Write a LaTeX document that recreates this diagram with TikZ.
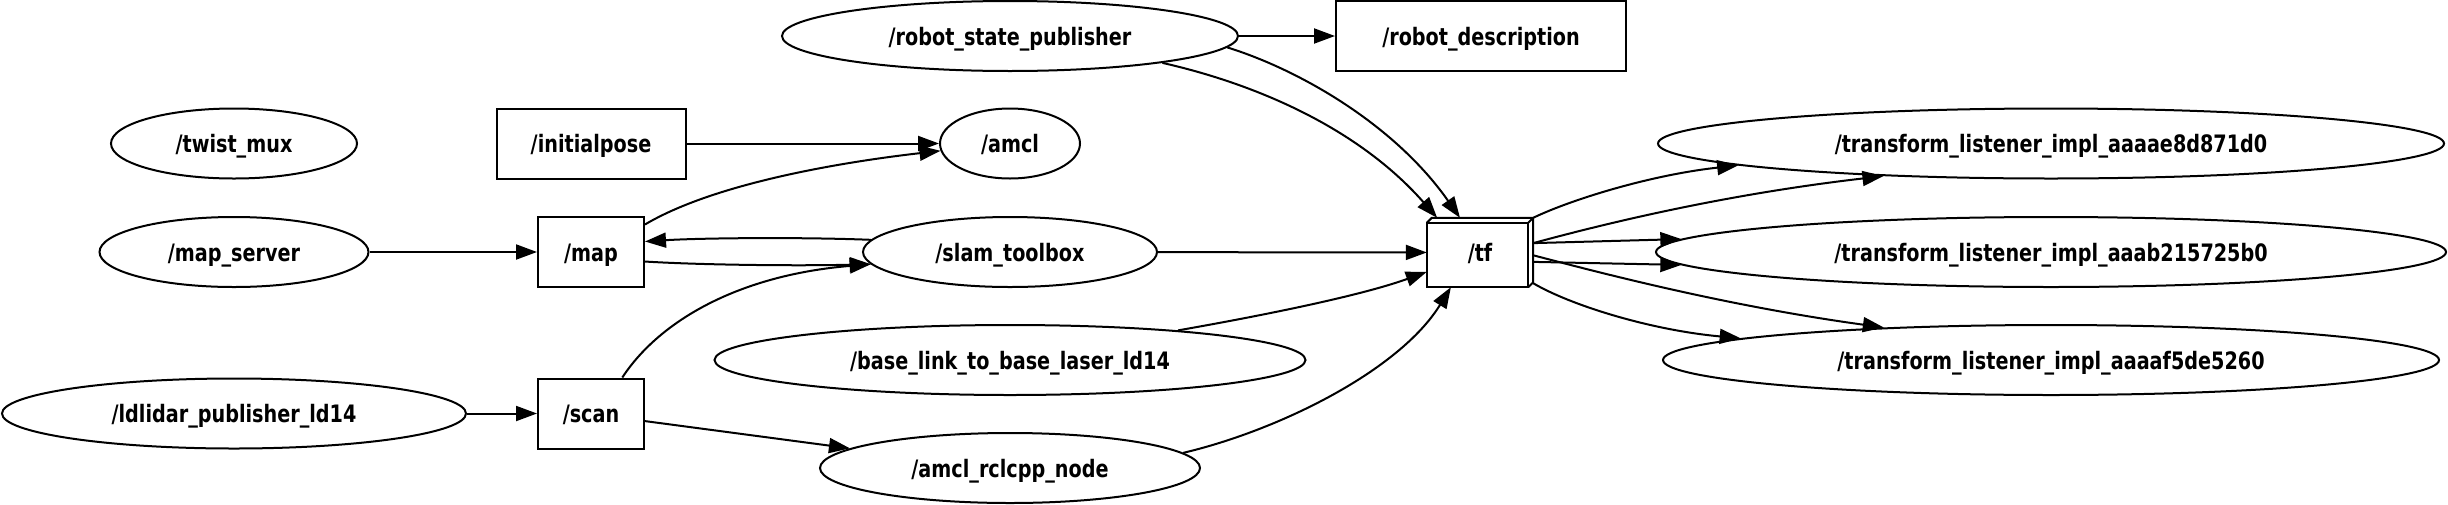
\documentclass[tikz,border=0pt]{standalone}
\usepackage{fontspec}
\usetikzlibrary{shapes.geometric,arrows.meta}
\newfontfamily\lblfont{DejaVu Sans}[FakeStretch=0.8]

\begin{document}
\begin{tikzpicture}[x=1pt,y=-1pt,
    lbl/.style={inner sep=0pt,text height=20pt,text depth=2pt,font=\lblfont\bfseries\fontsize{24}{26}\selectfont},
    rosnode/.style={lbl,draw,ellipse,line width=2pt,minimum height=70pt},
    rostopic/.style={lbl,draw,rectangle,line width=2pt,minimum height=70pt},
    conn/.style={line width=2pt,-{Triangle[length=21pt,width=15pt]}}]
    \useasboundingbox (0,0) rectangle (2448,504);
    % colonna 1
    \node[rosnode,minimum width=246pt] (twist) at (234,143.5) {/twist\_mux};
    \node[rosnode,minimum width=269pt] (mapserver) at (234,252) {/map\_server};
    \node[rosnode,minimum width=464pt] (ldlidar) at (234,413.5) {/ldlidar\_publisher\_ld14};
    % colonna 2
    \node[rostopic,minimum width=189pt] (initialpose) at (591,143.5) {/initialpose};
    \node[rostopic,minimum width=106pt] (map) at (591,252) {/map};
    \node[rostopic,minimum width=106pt] (scan) at (591,413.5) {/scan};
    % colonna 3
    \node[rosnode,minimum width=456pt] (rsp) at (1010,36) {/robot\_state\_publisher};
    \node[rosnode,minimum width=140pt] (amcl) at (1010,143.5) {/amcl};
    \node[rosnode,minimum width=294pt] (slam) at (1010,252) {/slam\_toolbox};
    \node[rosnode,minimum width=591pt] (baselink) at (1010,360) {/base\_link\_to\_base\_laser\_ld14};
    \node[rosnode,minimum width=380pt] (amclnode) at (1010,468) {/amcl\_rclcpp\_node};
    % colonna 4
    \node[rostopic,minimum width=290pt] (robotdesc) at (1481,36) {/robot\_description};
    \node[lbl,minimum width=106pt,minimum height=69pt] (tf) at (1480,252.5) {/tf};
    \draw[line width=2pt] (tf.south west) rectangle ([shift={(-5,5)}]tf.north east);
    \draw[line width=2pt] ([shift={(0,5)}]tf.north west) -- ([shift={(5,0)}]tf.north west) -- (tf.north east)
        -- ([shift={(0,-5)}]tf.south east) -- ([shift={(-5,0)}]tf.south east);
    \draw[line width=2pt] ([shift={(-5,5)}]tf.north east) -- (tf.north east);
    % colonna 5
    \node[rosnode,minimum width=786pt] (tl1) at (2051,143.5) {/transform\_listener\_impl\_aaaae8d871d0};
    \node[rosnode,minimum width=790pt] (tl2) at (2051,252) {/transform\_listener\_impl\_aaab215725b0};
    \node[rosnode,minimum width=776pt] (tl3) at (2051,360) {/transform\_listener\_impl\_aaaaf5de5260};

    \draw[conn] (mapserver) -- (map);
    \draw[conn] (ldlidar) -- (scan);
    \draw[conn] (initialpose) -- (amcl);
    \draw[conn] (map.27) .. controls (720,180) and (860,160) .. (amcl.186);
    \draw[conn] (slam.175) .. controls (800,237) and (700,238) .. (map.11);
    \draw[conn] (map.-10) .. controls (700,265) and (800,266) .. (slam.185);
    \draw[conn] (scan.49) .. controls (660,320) and (740,275) .. (slam.185);
    \draw[conn] (scan.-8) -- (amclnode.173);
    \draw[conn] (rsp) -- (robotdesc);
    \draw[conn] (rsp.-3) .. controls (1300,70) and (1395,125) .. (tf.120);
    \draw[conn] (rsp.-10) .. controls (1260,85) and (1360,130) .. (tf.141);
    \draw[conn] (slam) -- (tf);
    \draw[conn] (baselink.10) .. controls (1260,316) and (1360,296) .. (tf.200);
    \draw[conn] (amclnode.5) .. controls (1280,430) and (1400,370) .. (tf.230);
    % uscite di /tf
    \draw[conn] (tf.north east) .. controls (1570,200) and (1650,175) .. (tl1.184);
    \draw[conn] (tf.10) .. controls (1600,225) and (1720,195) .. (tl1.191);
    \draw[conn] (tf.10) -- (tl2.178);
    \draw[conn] (tf.-10) -- (tl2.182);
    \draw[conn] (tf.-3) .. controls (1590,270) and (1720,305) .. (tl3.169);
    \draw[conn] (tf.-30) .. controls (1570,305) and (1650,330) .. (tl3.176);
\end{tikzpicture}
\end{document}
